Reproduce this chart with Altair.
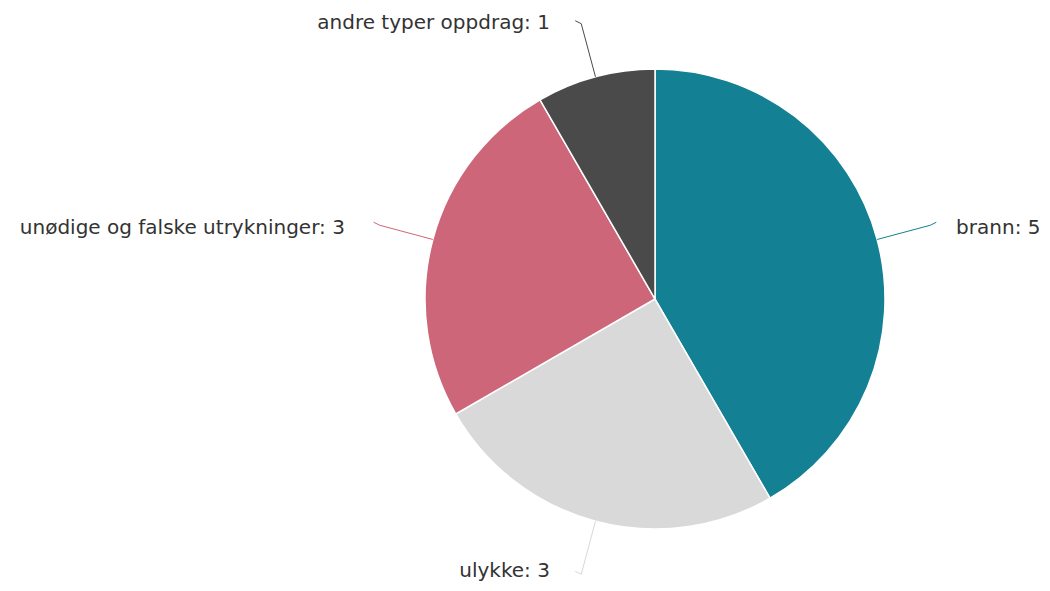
import math
import altair as alt
import pandas as pd

categories = ["brann", "ulykke", "unødige og falske utrykninger", "andre typer oppdrag"]
values = [5, 3, 3, 1]
colors = ["#138093", "#d9d9d9", "#cd6678", "#4a4a4a"]

W, H = 1034, 575
CX, CY = 647, 291          # pie centre inside the plot area (pixels)
R = 230                    # pie radius (pixels)

total = sum(values)
rows, line_rows = [], []
cum = 0
for i, (c, v) in enumerate(zip(categories, values)):
    mid = 2 * math.pi * (cum + v / 2) / total
    cum += v
    s, co = math.sin(mid), math.cos(mid)
    side = 1 if s >= 0 else -1
    p1 = (285 * s, 285 * co)
    lx = 290 * s + (21 if side > 0 else -30)
    ly = 290 * co - 4
    ly = max(ly, -(H - CY) + 12)   # keep bottom label inside the page
    rows.append(dict(cat=c, val=v, idx=i, cx=0, cy=0, lx=lx, ly=ly,
                     label=f"{c}: {v}", side="right" if side > 0 else "left"))
    pts = [(R * s, R * co), p1, (p1[0] + side * 6, p1[1] + 3)]
    for k, (px, py) in enumerate(pts):
        line_rows.append(dict(cat=c, k=k, px=px, py=py))

df = pd.DataFrame(rows)
lines = pd.DataFrame(line_rows)

xs = alt.Scale(domain=[-CX, W - CX], range=[0, W], nice=False, zero=False)
ys = alt.Scale(domain=[-(H - CY), CY], range=[H, 0], nice=False, zero=False)
cscale = alt.Scale(domain=categories, range=colors)

base = alt.Chart(df)

pie = base.mark_arc(outerRadius=R, stroke="white", strokeWidth=1.5).encode(
    theta=alt.Theta("val:Q", stack=True),
    order=alt.Order("idx:Q"),
    color=alt.Color("cat:N", scale=cscale, legend=None),
    x=alt.X("cx:Q", scale=xs, axis=None),
    y=alt.Y("cy:Q", scale=ys, axis=None),
)

conn = alt.Chart(lines).mark_line(strokeWidth=1).encode(
    x=alt.X("px:Q", scale=xs, axis=None),
    y=alt.Y("py:Q", scale=ys, axis=None),
    color=alt.Color("cat:N", scale=cscale, legend=None),
    detail="cat:N",
    order="k:Q",
)

txt_common = dict(font="DejaVu Sans", fontSize=20, color="#333333", baseline="middle")
txt_r = base.transform_filter(alt.datum.side == "right").mark_text(align="left", **txt_common).encode(
    x=alt.X("lx:Q", scale=xs, axis=None),
    y=alt.Y("ly:Q", scale=ys, axis=None),
    text="label:N",
)
txt_l = base.transform_filter(alt.datum.side == "left").mark_text(align="right", **txt_common).encode(
    x=alt.X("lx:Q", scale=xs, axis=None),
    y=alt.Y("ly:Q", scale=ys, axis=None),
    text="label:N",
)

chart = alt.layer(pie, conn, txt_r, txt_l).properties(
    width=W, height=H, padding=0, autosize=alt.AutoSizeParams(type="none")
).configure_view(stroke=None)

chart.save("out.html", embed_options={"renderer": "svg", "actions": False})
